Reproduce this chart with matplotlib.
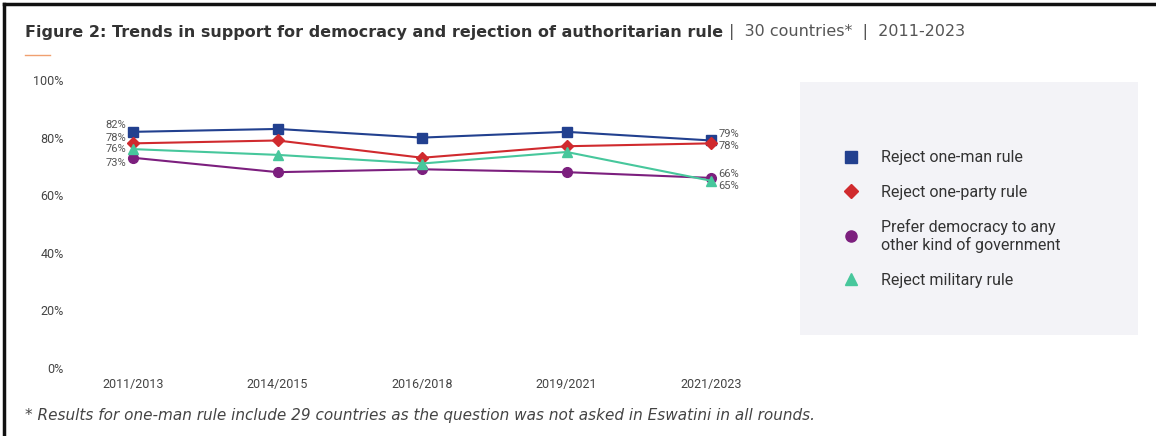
import matplotlib.pyplot as plt
from matplotlib.lines import Line2D
from matplotlib.patches import Rectangle

# survey rounds
rounds = ["2011/2013", "2014/2015", "2016/2018", "2019/2021", "2021/2023"]

# percentages per indicator
one_man = [82, 83, 80, 82, 79]
one_party = [78, 79, 73, 77, 78]
democracy = [73, 68, 69, 68, 66]
military = [76, 74, 71, 75, 65]

series_names = [
    "Reject one-man rule",
    "Reject one-party rule",
    "Prefer democracy to any\nother kind of government",
    "Reject military rule",
]
series_colors = ["#22408f", "#d02a2e", "#7c1f7e", "#47c79c"]
series_markers = ["s", "D", "o", "^"]
series_sizes = [7, 6, 7, 7]

# vertical nudges (points) for the first / last value labels so they don't collide
first_nudge = [4.9, 3.6, -4.0, -0.2]
last_nudge = [4.8, -1.7, 3.0, -3.6]

yticks = [0, 20, 40, 60, 80, 100]

TEXT = "#444444"
W, H = 1156, 436

fig = plt.figure(figsize=(W / 100, H / 100), dpi=100)
fig.patch.set_facecolor("white")

# frame lines on the left and top edges
fig.add_artist(Line2D([4 / W, 4 / W], [0, 1 - 4 / H], color="#111111", lw=2.5))
fig.add_artist(Line2D([4 / W, 1], [1 - 4 / H, 1 - 4 / H], color="#111111", lw=2.5))

# title
t1 = fig.text(25 / W, 1 - 32 / H,
              "Figure 2: Trends in support for democracy and rejection of authoritarian rule",
              fontsize=11.5, fontweight="bold", color="#333333", va="center",
              family="DejaVu Sans")
fig.canvas.draw()
bb = t1.get_window_extent()
fig.text(bb.x1 / W + 0.005, 1 - 32 / H, "|  30 countries*  |  2011-2023",
         fontsize=11.5, color="#555555", va="center", family="DejaVu Sans")
fig.add_artist(Line2D([25 / W, 50 / W], [1 - 55 / H, 1 - 55 / H],
                      color="#f0a070", lw=1))

# legend background
fig.add_artist(Rectangle((800 / W, 1 - 335 / H), 338 / W, 253 / H,
                         transform=fig.transFigure, facecolor="#f3f3f7",
                         edgecolor="none", zorder=0))

ax = fig.add_axes([68 / W, (H - 368) / H, 701 / W, 288 / H])
ax.set_facecolor("none")
x = list(range(len(rounds)))
all_series = [one_man, one_party, democracy, military]

for vals, col, mk, ms in zip(all_series, series_colors, series_markers, series_sizes):
    ax.plot(x, vals, color=col, marker=mk, markersize=ms, lw=1.5)

# end-point labels
for vals, dy0, dy1 in zip(all_series, first_nudge, last_nudge):
    ax.annotate(f"{vals[0]}%", (x[0], vals[0]), xytext=(-5, dy0),
                textcoords="offset points", ha="right", va="center",
                fontsize=8, color="#555555", family="Roboto")
    ax.annotate(f"{vals[-1]}%", (x[-1], vals[-1]), xytext=(5, dy1),
                textcoords="offset points", ha="left", va="center",
                fontsize=8, color="#555555", family="Roboto")

ax.set_xlim(-0.45, 4.4)
ax.set_ylim(0, 100)
ax.set_xticks(x)
ax.set_xticklabels(rounds, fontsize=9, color=TEXT, family="Roboto")
ax.set_yticks(yticks)
ax.set_yticklabels([f"{v}%" for v in yticks], fontsize=9, color=TEXT, family="Roboto")
ax.tick_params(length=0)
ax.tick_params(axis="x", pad=7)
ax.tick_params(axis="y", pad=3)
for s in ax.spines.values():
    s.set_visible(False)

handles = [
    Line2D([], [], linestyle="none", marker=mk, color=col, markersize=ms + 1)
    for col, mk, ms in zip(series_colors, series_markers, series_sizes)
]
fig.legend(handles, series_names, loc="upper left",
           bbox_to_anchor=(827 / W, 1 - 136 / H), frameon=False,
           handlelength=1.2, handletextpad=1.3, labelspacing=1.2,
           prop={"family": "Roboto", "size": 11.5}, labelcolor="#333333")

fig.text(25 / W, 1 - 415 / H,
         "* Results for one-man rule include 29 countries as the question was not asked in Eswatini in all rounds.",
         fontsize=11, style="italic", color="#444444", va="center", family="DejaVu Sans")

fig.savefig("out.png", dpi=100)
